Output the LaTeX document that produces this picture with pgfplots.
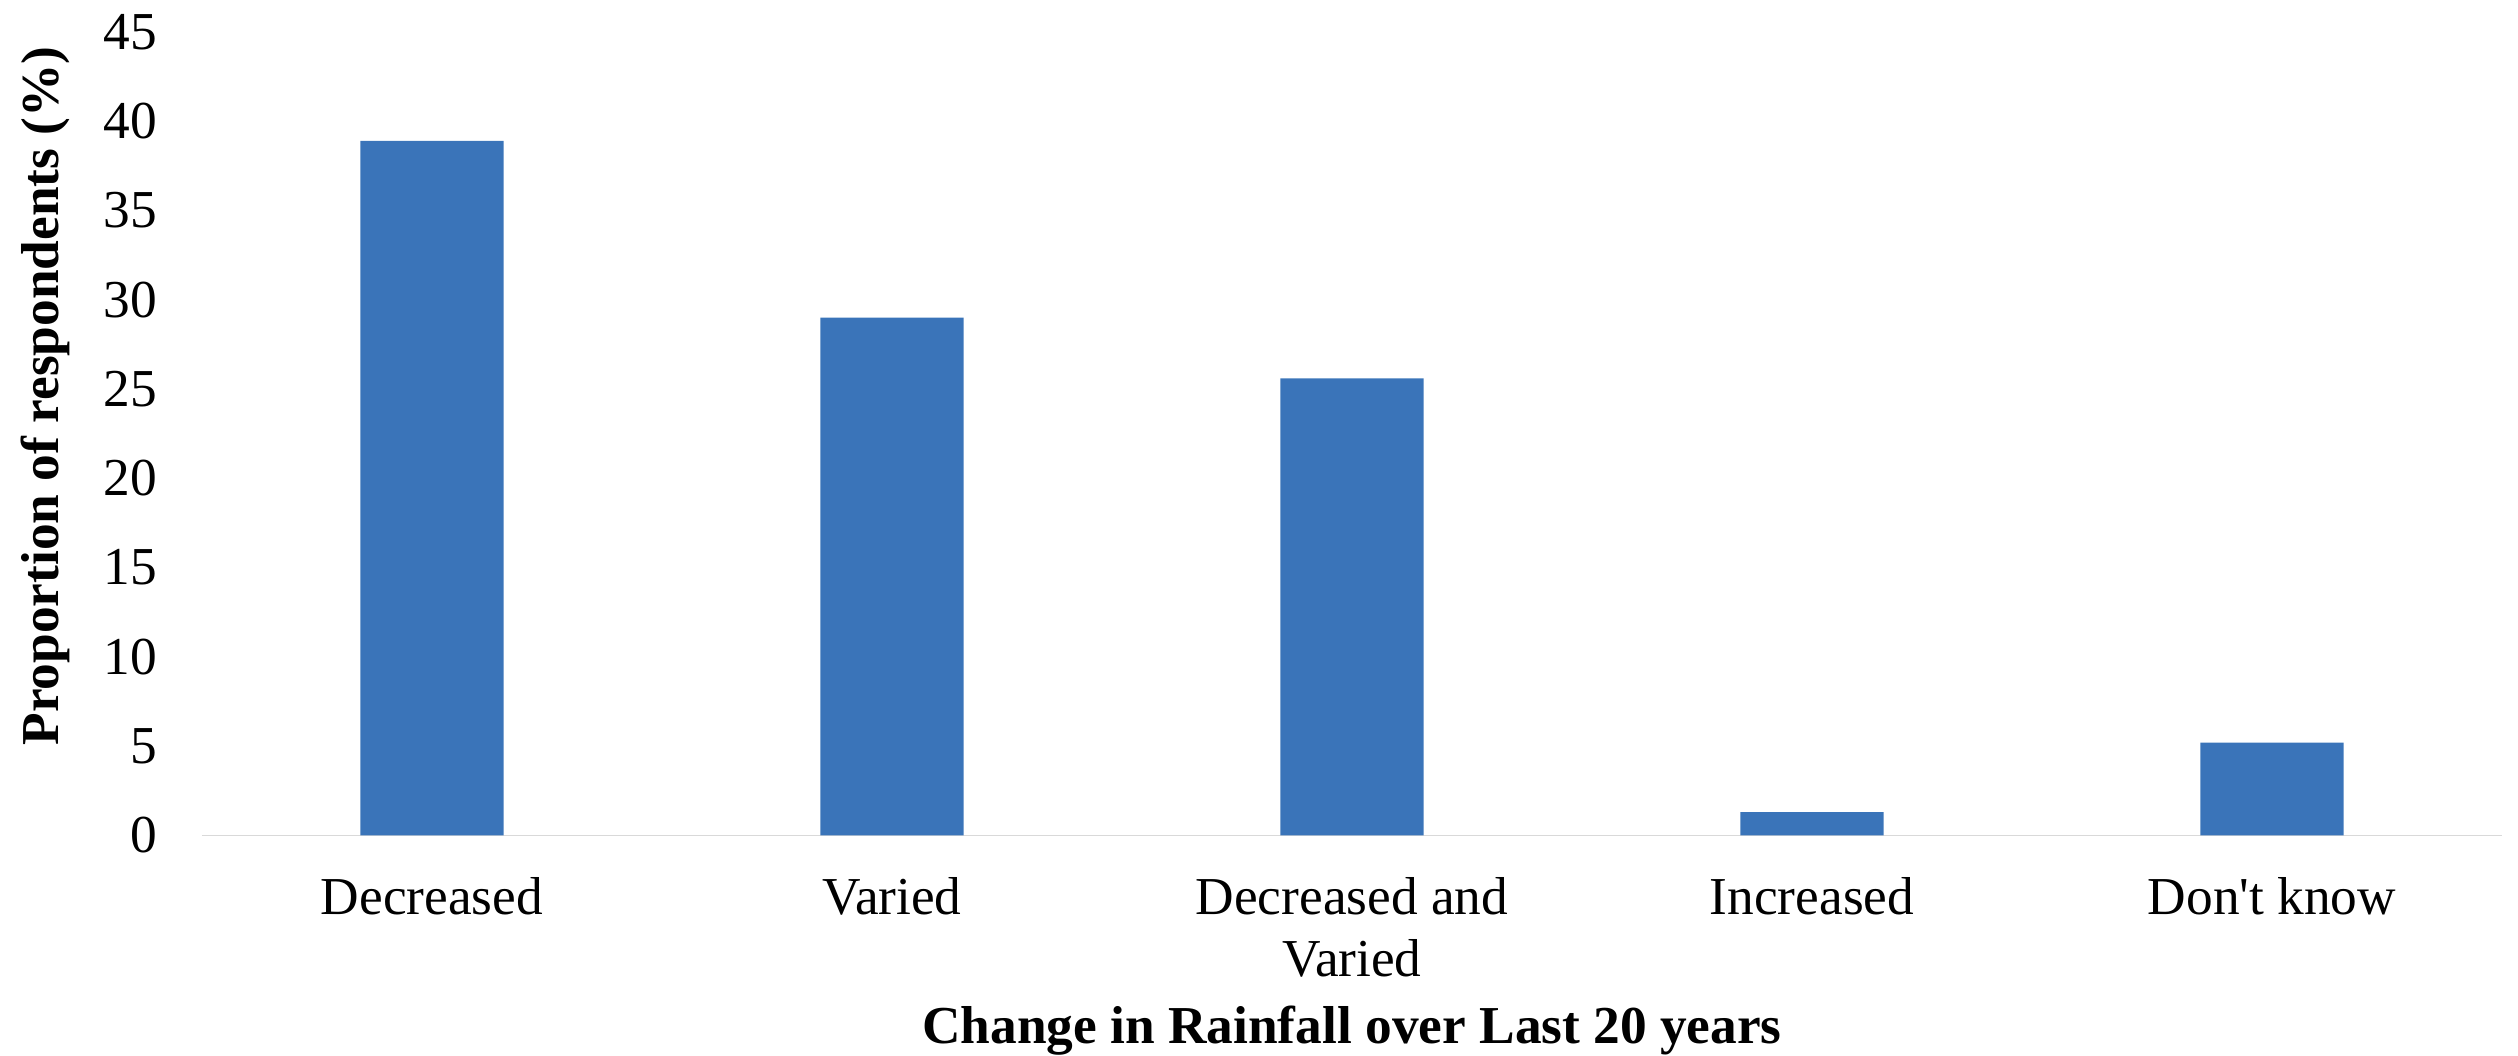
\documentclass[border=0pt]{standalone}
\usepackage{fontspec}
\setmainfont{Liberation Serif}
\usepackage{pgfplots}
\pgfplotsset{compat=1.18}
\definecolor{barblue}{RGB}{58,116,185}
\definecolor{axisgray}{RGB}{217,217,217}

\begin{document}
\begin{tikzpicture}
\fontsize{16pt}{18.6pt}\selectfont
\path[use as bounding box] (-60.6pt,-66pt) rectangle (694.8pt,250.6pt);
\begin{axis}[
  at={(0,0)}, anchor=south west,
  scale only axis,
  width=690pt, height=241pt,
  xmin=-0.5, xmax=4.5,
  ymin=0, ymax=45,
  ytick={0,5,...,45},
  xtick={0,1,2,3,4},
  xticklabels={Decreased, Varied, {Decreased and\\Varied}, Increased, Don\textquotesingle t know},
  major tick length=0pt,
  axis x line=bottom,
  axis y line=left,
  x axis line style={-, draw=axisgray, line width=0.5pt},
  y axis line style={draw=none},
  /pgf/number format/assume math mode=true,
  tick label style={font=\fontsize{16pt}{18.6pt}\selectfont},
  yticklabel style={xshift=-8pt},
  xticklabel style={align=center, yshift=-7pt},
  xlabel={\textbf{Change in Rainfall over Last 20 years}},
  ylabel={\textbf{Proportion of respondents (\%)}},
  label style={font=\fontsize{16pt}{18.6pt}\selectfont},
  every axis x label/.style={at={(axis description cs:0.5,0)}, anchor=base, yshift=-62.4pt},
  every axis y label/.style={at={(axis description cs:-0.0683,0.547)}, rotate=90, anchor=center},
  clip=false,
]
\addplot[ybar, bar width=43pt, fill=barblue, draw=none]
  coordinates {(0,38.9) (1,29.0) (2,25.6) (3,1.3) (4,5.2)};
\end{axis}
\end{tikzpicture}
\end{document}
